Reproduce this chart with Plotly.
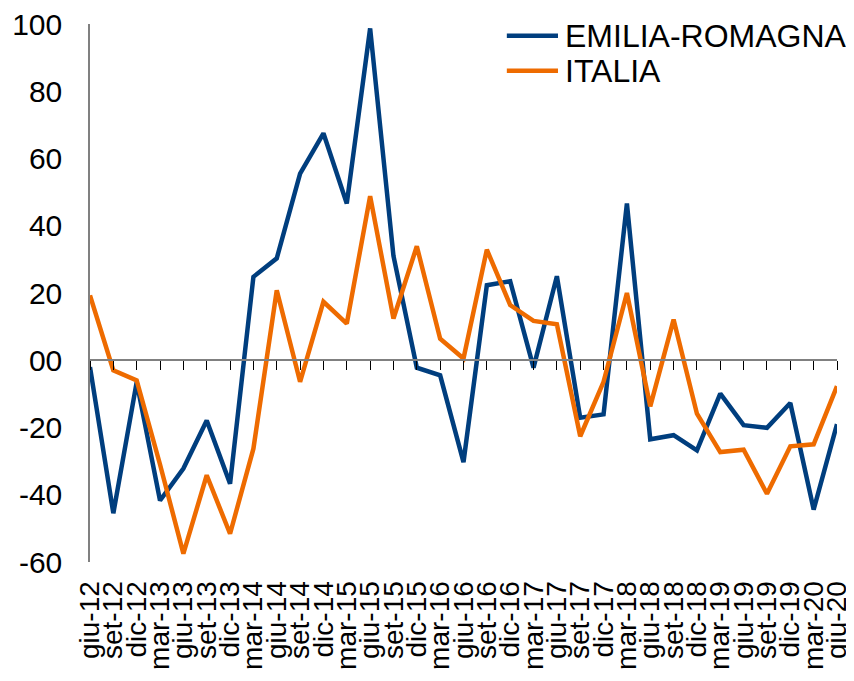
import plotly.graph_objects as go

periods = ["giu-12", "set-12", "dic-12", "mar-13", "giu-13", "set-13", "dic-13",
           "mar-14", "giu-14", "set-14", "dic-14", "mar-15", "giu-15", "set-15",
           "dic-15", "mar-16", "giu-16", "set-16", "dic-16", "mar-17", "giu-17",
           "set-17", "dic-17", "mar-18", "giu-18", "set-18", "dic-18", "mar-19",
           "giu-19", "set-19", "dic-19", "mar-20", "giu-20"]

emilia_romagna = [-2, -45.5, -6.5, -41.7, -32.2, -17.9, -36.7,
                  24.8, 30.3, 55.5, 67.5, 46.6, 98.7, 31,
                  -2.2, -4.5, -30.3, 22.3, 23.5, -2.2, 25,
                  -17.1, -16.1, 46.6, -23.5, -22.3, -26.8, -9.9,
                  -19.3, -20.1, -12.7, -44.4, -19]

italia = [19.3, -3, -6, -31, -57.5, -34.2, -51.6,
          -26.3, 20.8, -6.4, 17.4, 10.9, 48.8, 12.4,
          33.9, 6.4, 0.5, 32.9, 16.4, 11.7, 10.7,
          -22.6, -6.4, 20, -13.7, 12.1, -15.9, -27.3,
          -26.6, -39.7, -25.6, -25, -7.7]

series_names = ["EMILIA-ROMAGNA", "ITALIA"]
series_colors = ["#003E7E", "#EE6B00"]

y_tickvals = [100, 80, 60, 40, 20, 0, -20, -40, -60]
y_ticktext = ["100", "80", "60", "40", "20", "00", "-20", "-40", "-60"]

FONT = "Liberation Sans, Arial, sans-serif"

fig = go.Figure()
fig.add_trace(go.Scatter(x=periods, y=emilia_romagna, mode="lines",
                         name=series_names[0], xaxis="x", yaxis="y",
                         line=dict(color=series_colors[0], width=4.5)))
fig.add_trace(go.Scatter(x=periods, y=italia, mode="lines",
                         name=series_names[1], xaxis="x2", yaxis="y",
                         line=dict(color=series_colors[1], width=4.5)))

n = len(periods)
# page body has an 8px default margin, so the figure is sized/offset to compensate
fig.update_layout(
    width=846, height=673,
    margin=dict(l=82, r=17, t=16, b=119, autoexpand=False),
    paper_bgcolor="white", plot_bgcolor="white",
    showlegend=False,
    font=dict(family=FONT, color="black"),
    xaxis=dict(
        type="category", categoryorder="array", categoryarray=periods,
        range=[0, n - 1], anchor="free", position=60 / 160, automargin=False,
        tickmode="array", tickvals=periods,
        showline=True, linecolor="#808080", linewidth=2,
        ticks="outside", ticklen=9, tickwidth=1.3, tickcolor="#000000",
        showticklabels=False, showgrid=False, zeroline=False,
    ),
    xaxis2=dict(
        type="category", categoryorder="array", categoryarray=periods,
        range=[0, n - 1], overlaying="x", anchor="y", side="bottom",
        automargin=False, tickmode="array", tickvals=periods, ticktext=periods,
        showline=False, showgrid=False, zeroline=False,
        ticks="outside", ticklen=7, tickcolor="rgba(0,0,0,0)",
        ticklabeloverflow="allow",
        tickangle=-90, tickfont=dict(size=28, family=FONT, color="black"),
    ),
    yaxis=dict(
        range=[-60, 100], tickmode="array", tickvals=y_tickvals, ticktext=y_ticktext,
        automargin=False, ticklabeloverflow="allow",
        showline=True, linecolor="#808080", linewidth=1.5,
        ticks="outside", ticklen=20, tickcolor="rgba(0,0,0,0)",
        showgrid=False, zeroline=False,
        tickfont=dict(size=30, family=FONT, color="black"),
    ),
)

# manual legend
leg_y = [0.978, 0.913]
for name, color, ly in zip(series_names, series_colors, leg_y):
    fig.add_shape(type="line", xref="paper", yref="paper",
                  x0=0.558, x1=0.6265, y0=ly, y1=ly,
                  line=dict(color=color, width=4.5))
    fig.add_annotation(xref="paper", yref="paper", x=0.633, y=ly,
                       text=name, showarrow=False, xanchor="left", yanchor="middle",
                       font=dict(size=32, family=FONT, color="black"))

fig.write_html("out.html")
